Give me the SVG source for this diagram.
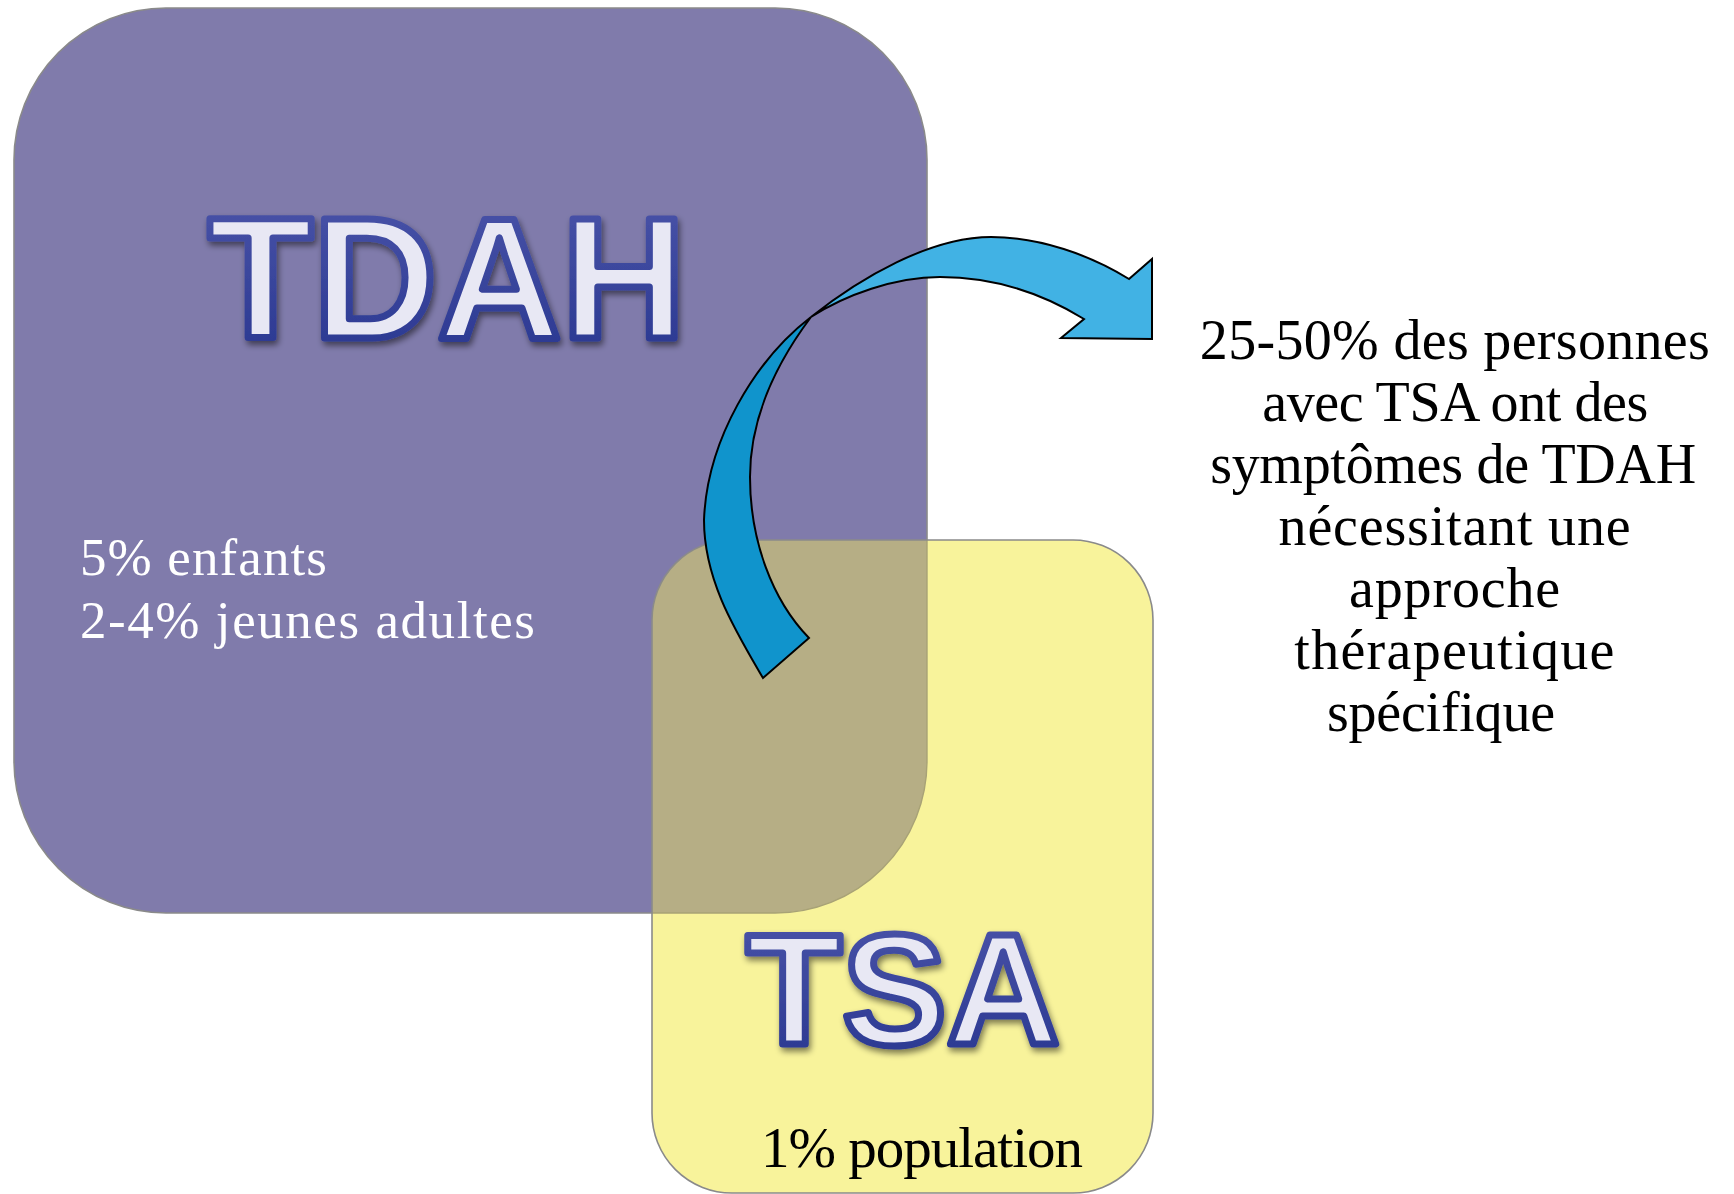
<svg xmlns="http://www.w3.org/2000/svg" width="1734" height="1194" viewBox="0 0 1734 1194">
  <style>
    .title { font-family: "Liberation Sans", Arial, sans-serif; font-weight: bold; fill: #e8e8f4; stroke: url(#titleStroke); stroke-width: 7; stroke-linejoin: round; filter: url(#shadow); }
    .serif { font-family: "Liberation Serif", "Times New Roman", serif; }
    .light { fill: #ffffff; }
    .dark { fill: #000000; }
    .box-stroke { fill: none; stroke: #8a8a8a; stroke-width: 1.6; }
    .arrow { stroke: #000000; stroke-width: 2; stroke-linejoin: miter; }
  </style>
  <defs>
    <linearGradient id="titleStroke" x1="0" y1="0" x2="0" y2="1">
      <stop offset="0" stop-color="#4c56aa"/>
      <stop offset="1" stop-color="#27358f"/>
    </linearGradient>
    <filter id="shadow" x="-10%" y="-10%" width="120%" height="130%">
      <feGaussianBlur in="SourceAlpha" stdDeviation="3"/>
      <feOffset dx="2" dy="4" result="b"/>
      <feComponentTransfer in="b" result="s"><feFuncA type="linear" slope="0.5"/></feComponentTransfer>
      <feMerge><feMergeNode in="s"/><feMergeNode in="SourceGraphic"/></feMerge>
    </filter>
    <clipPath id="clipYellow">
      <rect x="652" y="540" width="501" height="653" rx="80" ry="80"/>
    </clipPath>
  </defs>

  <!-- TDAH box -->
  <g id="tdah-box">
    <rect x="14" y="8" width="913" height="905" rx="152" ry="152" fill="#807bab"/>
    <rect x="14" y="8" width="913" height="905" rx="152" ry="152" class="box-stroke"/>
  </g>

  <!-- TSA box -->
  <g id="tsa-box">
    <rect x="652" y="540" width="501" height="653" rx="80" ry="80" fill="#f8f39b"/>
    <g clip-path="url(#clipYellow)">
      <rect x="14" y="8" width="913" height="905" rx="152" ry="152" fill="#b6ae85"/>
      <rect x="14" y="8" width="913" height="905" rx="152" ry="152" fill="none" stroke="#a8a276" stroke-width="1.4"/>
    </g>
    <rect x="652" y="540" width="501" height="653" rx="80" ry="80" class="box-stroke"/>
  </g>

  <!-- TDAH labels -->
  <g id="tdah">
    <text class="title" x="208" y="338" font-size="172">TDAH</text>
    <text class="serif light" font-size="53">
      <tspan x="80" y="575" textLength="247" lengthAdjust="spacing">5% enfants</tspan>
      <tspan x="80" y="638" textLength="455" lengthAdjust="spacing">2-4% jeunes adultes</tspan>
    </text>
  </g>

  <!-- TSA labels -->
  <g id="tsa">
    <text class="title" x="746" y="1044" font-size="157">TSA</text>
    <text class="serif dark" x="761" y="1167" font-size="57" textLength="322" lengthAdjust="spacing">1% population</text>
  </g>

  <!-- Note text -->
  <g id="note">
    <text class="serif dark" font-size="56" text-anchor="middle">
      <tspan x="1462" y="359" textLength="510" lengthAdjust="spacing">25-50% des personnes</tspan>
      <tspan x="1462" y="421" textLength="386" lengthAdjust="spacing">avec TSA ont des</tspan>
      <tspan x="1460" y="483" textLength="486" lengthAdjust="spacing">symptômes de TDAH</tspan>
      <tspan x="1462" y="545" textLength="352" lengthAdjust="spacing">nécessitant une</tspan>
      <tspan x="1462" y="607" textLength="211" lengthAdjust="spacing">approche</tspan>
      <tspan x="1462" y="669" textLength="320" lengthAdjust="spacing">thérapeutique</tspan>
      <tspan x="1441" y="731" textLength="228" lengthAdjust="spacing">spécifique</tspan>
    </text>
  </g>

  <!-- Connectors -->
  <g id="connectors">
    <path class="arrow" fill="#1094cc" d="M 811,317 C 755,360 707,440 704,520 C 704,580 735,630 763,678 L 809,638 C 772,600 750,540 750,477 C 750,420 775,365 811,317 Z"/>
    <path class="arrow" fill="#41b2e4" d="M 811,317 C 860,278 930,237 991,237 C 1040,237 1090,255 1129,279 L 1152,259 L 1152,339 L 1061,338 L 1084,319 C 1040,292 990,277 940,277 C 895,277 845,295 811,317 Z"/>
  </g>
</svg>
